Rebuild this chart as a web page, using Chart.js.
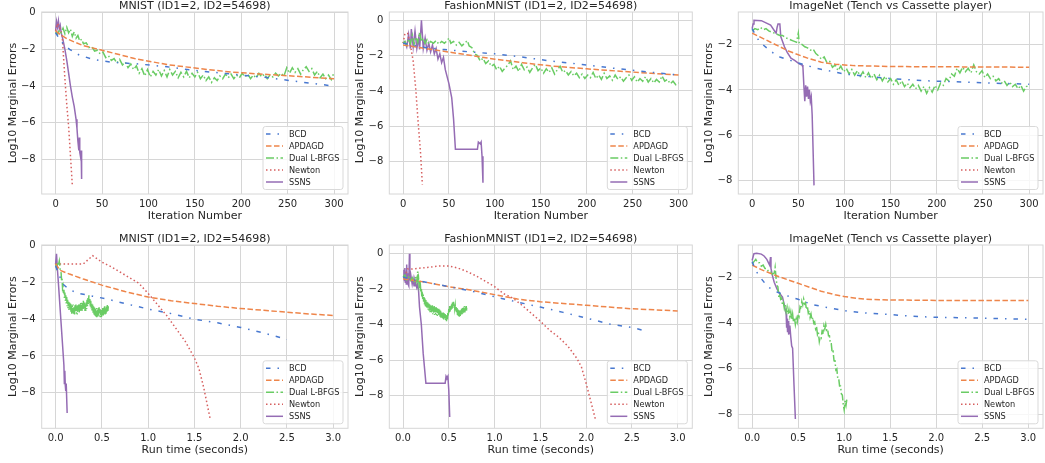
<!DOCTYPE html>
<html>
<head>
<meta charset="utf-8">
<script src="https://cdn.jsdelivr.net/npm/chart.js@4.4.0/dist/chart.umd.min.js"></script>
<style>
    body { margin: 0; background: #ffffff; width: 1045px; height: 463px; overflow: hidden; position: relative; }
    canvas { position: absolute; }
</style>
</head>
<body>
<canvas id="mnist-iter"></canvas>
<canvas id="fashion-iter"></canvas>
<canvas id="imagenet-iter"></canvas>
<canvas id="mnist-time"></canvas>
<canvas id="fashion-time"></canvas>
<canvas id="imagenet-time"></canvas>
<script>
// Series and ticks
const seriesNames = ['BCD', 'APDAGD', 'Dual L-BFGS', 'Newton', 'SSNS'];
const iterTicks = [0, 50, 100, 150, 200, 250, 300];
const timeTicks = [0, 0.5, 1.0, 1.5, 2.0, 2.5, 3.0];
const yTicksFull = [0, -2, -4, -6, -8];
const yTicksShort = [-2, -4, -6, -8];

// MNIST, iterations
const mnistIterBCD = [[0,-1.1],[5,-1.5],[10,-1.8],[15,-2.0],[25,-2.3],[40,-2.55],[60,-2.7],[90,-2.8],[120,-2.95],[150,-3.15],[190,-3.35],[230,-3.55],[260,-3.75],[300,-4.0]];
const mnistIterAPDAGD = [[0,-1.0],[5,-1.2],[12,-1.42],[20,-1.6],[30,-1.8],[50,-2.05],[85,-2.5],[120,-2.83],[155,-3.05],[190,-3.24],[225,-3.36],[260,-3.47],[300,-3.6]];
const mnistIterLBFGS = [[0,-1.05],[2,-1.2],[4,-0.95],[6,-1.1],[8,-0.85],[10,-1.15],[12,-0.8],[14,-1.1],[16,-0.9],[18,-1.3],[20,-1.05],[22,-1.4],[24,-1.25],[26,-1.55],[28,-1.45],[30,-1.7],[33,-1.65],[36,-1.9],[39,-1.85],[42,-2.1],[45,-2.05],[48,-2.25],[51,-2.15],[54,-2.45],[57,-2.35],[60,-2.6],[63,-2.5],[66,-2.75],[69,-2.55],[72,-2.85],[75,-2.7],[78,-3.0],[81,-2.8],[84,-3.1],[87,-2.9],[90,-3.3],[93,-3.05],[96,-3.45],[99,-3.1],[102,-3.5],[105,-3.2],[108,-3.4],[111,-3.1],[114,-3.45],[117,-3.15],[120,-3.5],[123,-3.1],[126,-3.4],[129,-3.2],[132,-3.55],[135,-3.25],[138,-3.5],[141,-3.2],[144,-3.55],[147,-3.3],[150,-3.5],[153,-3.25],[156,-3.6],[159,-3.4],[162,-3.7],[165,-3.5],[168,-3.8],[171,-3.55],[174,-3.7],[177,-3.45],[180,-3.6],[183,-3.35],[186,-3.55],[189,-3.35],[192,-3.6],[195,-3.4],[198,-3.55],[201,-3.3],[204,-3.5],[207,-3.35],[210,-3.6],[213,-3.4],[216,-3.55],[219,-3.3],[222,-3.5],[225,-3.35],[228,-3.6],[231,-3.4],[234,-3.5],[237,-3.3],[240,-3.45],[243,-3.3],[246,-3.45],[249,-3.0],[252,-3.3],[255,-3.0],[258,-3.25],[261,-3.05],[264,-3.35],[267,-3.1],[270,-2.95],[273,-3.2],[276,-3.05],[279,-3.4],[282,-3.2],[285,-3.55],[288,-3.35],[291,-3.6],[294,-3.4],[297,-3.65],[300,-3.25]];
const mnistIterNewton = [[0,-1.0],[2,-0.6],[5,-0.9],[7,-1.2],[10,-3.6],[12,-5.0],[14,-6.2],[16,-7.8],[18,-9.4]];
const mnistIterSSNS = [[0,-1.0],[1,-0.5],[2,-0.8],[3,-0.45],[4,-0.9],[5,-0.7],[6,-1.1],[8,-1.5],[10,-2.0],[12,-2.6],[14,-3.3],[16,-4.0],[18,-4.6],[20,-5.1],[22,-5.8],[23,-6.3],[24,-7.0],[25,-7.5],[25.5,-6.8],[26,-7.6],[27,-7.9],[27.5,-7.5],[28,-9.05]];

// FashionMNIST, iterations
const fashionIterBCD = [[0,-1.3],[10,-1.4],[25,-1.55],[45,-1.66],[75,-1.8],[100,-1.9],[125,-2.05],[160,-2.3],[195,-2.5],[230,-2.72],[265,-2.92],[300,-3.1]];
const fashionIterAPDAGD = [[0,-1.4],[25,-1.6],[50,-1.8],[75,-2.0],[100,-2.2],[130,-2.4],[160,-2.58],[200,-2.75],[240,-2.9],[270,-3.0],[300,-3.1]];
const fashionIterLBFGS = [[0,-1.3],[2,-1.2],[4,-1.4],[6,-1.05],[8,-1.3],[10,-0.85],[12,-1.35],[14,-0.95],[16,-1.25],[18,-0.7],[20,-1.2],[22,-1.0],[24,-1.3],[26,-1.1],[28,-1.35],[30,-1.2],[33,-1.3],[36,-1.15],[39,-1.35],[42,-1.2],[45,-1.3],[48,-1.15],[50,-1.0],[52,-1.3],[55,-1.2],[58,-1.4],[61,-1.25],[64,-1.45],[67,-1.3],[70,-1.15],[72,-1.45],[75,-1.55],[78,-1.9],[81,-2.0],[84,-2.3],[87,-2.15],[90,-2.45],[93,-2.3],[96,-2.6],[99,-2.5],[102,-2.8],[105,-2.6],[108,-2.9],[111,-2.7],[114,-2.55],[117,-2.3],[120,-2.8],[123,-2.6],[126,-2.9],[129,-2.5],[132,-2.8],[135,-2.65],[138,-2.95],[141,-2.7],[144,-2.5],[147,-2.85],[150,-2.7],[153,-3.0],[156,-2.75],[159,-2.95],[162,-2.7],[165,-3.05],[168,-2.8],[171,-2.6],[174,-2.95],[177,-2.85],[180,-3.1],[183,-2.9],[186,-3.15],[189,-3.0],[192,-3.25],[195,-3.05],[198,-3.3],[201,-3.1],[204,-3.25],[207,-2.95],[210,-3.3],[213,-3.1],[216,-3.35],[219,-3.0],[222,-3.3],[225,-3.15],[228,-3.4],[231,-3.1],[234,-3.35],[237,-3.2],[240,-3.45],[243,-3.25],[246,-3.1],[249,-3.4],[252,-3.2],[255,-3.5],[258,-3.3],[261,-3.45],[264,-3.2],[267,-3.5],[270,-3.3],[273,-3.55],[276,-3.35],[279,-3.5],[282,-3.15],[285,-3.45],[288,-3.35],[291,-3.6],[294,-3.45],[297,-3.65],[300,-3.55]];
const fashionIterNewton = [[0,-1.3],[2,-0.75],[5,-0.75],[8,-1.4],[11,-2.3],[14,-4.0],[16,-5.5],[19,-7.5],[21,-9.3]];
const fashionIterSSNS = [[0,-1.3],[2,-1.2],[4,-1.5],[6,-0.8],[8,-1.6],[9,-0.5],[11,-1.5],[13,-0.6],[15,-1.6],[17,-1.0],[18,-1.65],[20,0.0],[22,-1.6],[24,-1.0],[26,-1.7],[28,-1.3],[30,-1.8],[32,-1.4],[34,-1.9],[36,-1.6],[38,-2.2],[40,-1.9],[42,-2.4],[44,-2.1],[46,-2.8],[50,-3.6],[53,-4.4],[55,-5.6],[57,-7.3],[81,-7.3],[82,-6.9],[84,-7.0],[85,-6.9],[86,-7.7],[87,-9.2]];

// ImageNet, iterations
const imagenetIterBCD = [[0,-1.3],[5,-1.7],[10,-1.95],[20,-2.3],[30,-2.55],[45,-2.75],[70,-3.05],[100,-3.3],[150,-3.5],[190,-3.6],[230,-3.65],[260,-3.7],[300,-3.75]];
const imagenetIterAPDAGD = [[0,-1.5],[20,-1.9],[40,-2.3],[60,-2.6],[75,-2.78],[90,-2.87],[110,-2.93],[150,-2.97],[200,-2.98],[300,-3.0]];
const imagenetIterLBFGS = [[0,-1.4],[3,-1.3],[6,-1.35],[9,-1.25],[12,-1.35],[15,-1.3],[18,-1.4],[21,-1.45],[24,-1.5],[27,-1.55],[30,-1.6],[33,-1.6],[36,-1.7],[39,-1.75],[42,-1.8],[45,-1.85],[48,-1.9],[50,-1.5],[51,-1.95],[54,-2.0],[57,-2.1],[60,-2.15],[63,-2.25],[66,-2.2],[69,-2.4],[72,-2.5],[75,-2.65],[78,-2.55],[81,-2.8],[84,-2.75],[87,-3.0],[90,-2.9],[93,-3.15],[96,-2.95],[99,-3.2],[102,-3.05],[105,-3.3],[108,-3.1],[111,-3.35],[114,-3.15],[117,-3.4],[120,-3.2],[123,-3.45],[126,-3.25],[129,-3.5],[132,-3.3],[135,-3.55],[138,-3.35],[141,-3.6],[144,-3.4],[147,-3.65],[150,-3.5],[153,-3.75],[156,-3.55],[159,-3.8],[162,-3.6],[165,-3.85],[168,-3.7],[171,-3.9],[174,-3.75],[177,-3.95],[180,-3.8],[183,-4.05],[186,-3.85],[189,-4.15],[192,-3.9],[195,-4.1],[198,-3.8],[201,-4.0],[204,-3.7],[207,-3.8],[210,-3.5],[213,-3.6],[216,-3.3],[219,-3.4],[222,-3.05],[225,-3.25],[228,-3.0],[231,-3.2],[234,-3.05],[237,-3.25],[240,-2.9],[243,-3.2],[246,-3.3],[249,-3.15],[252,-3.45],[255,-3.3],[258,-3.5],[261,-3.4],[264,-3.6],[267,-3.5],[270,-3.7],[273,-3.6],[276,-3.8],[279,-3.65],[282,-3.85],[285,-3.75],[288,-3.95],[291,-3.8],[294,-4.05],[297,-3.85],[300,-3.8]];
const imagenetIterNewton = [];
const imagenetIterSSNS = [[0,-1.3],[1,-1.1],[2,-0.93],[10,-0.95],[15,-1.05],[20,-1.15],[25,-1.45],[26,-1.5],[27,-1.25],[28,-1.1],[30,-1.1],[31,-1.65],[35,-2.1],[38,-2.35],[42,-2.6],[46,-2.7],[51,-2.85],[54,-2.9],[55,-3.0],[56,-3.8],[57,-4.5],[58,-3.8],[59,-4.3],[60,-3.85],[61,-4.4],[62,-4.0],[63,-4.5],[64,-4.3],[65,-5.1],[67,-8.2]];

// MNIST, run time
const mnistTimeBCD = [[0,-1.1],[0.03,-1.5],[0.08,-2.1],[0.15,-2.4],[0.25,-2.6],[0.4,-2.75],[0.55,-2.9],[0.75,-3.15],[1.0,-3.45],[1.25,-3.7],[1.5,-4.0],[1.75,-4.2],[2.0,-4.45],[2.25,-4.75],[2.5,-5.1]];
const mnistTimeAPDAGD = [[0,-1.0],[0.05,-1.35],[0.15,-1.55],[0.3,-1.82],[0.5,-2.15],[0.75,-2.5],[1.0,-2.8],[1.25,-3.0],[1.5,-3.15],[1.75,-3.3],[2.0,-3.42],[2.25,-3.52],[2.5,-3.62],[2.75,-3.72],[3.0,-3.8]];
const mnistTimeLBFGS = [[0,-1.0],[0.01,-1.2],[0.02,-0.9],[0.03,-1.1],[0.04,-0.85],[0.05,-1.3],[0.06,-1.5],[0.065,-1.9],[0.07,-1.8],[0.075,-2.3],[0.08,-2.2],[0.085,-2.6],[0.09,-2.4],[0.095,-2.85],[0.1,-2.55],[0.105,-3.0],[0.11,-2.7],[0.115,-3.15],[0.12,-2.8],[0.125,-3.3],[0.13,-2.95],[0.135,-3.4],[0.14,-3.05],[0.145,-3.5],[0.15,-3.1],[0.155,-3.55],[0.16,-3.15],[0.165,-3.6],[0.17,-3.2],[0.175,-3.7],[0.18,-3.25],[0.185,-3.65],[0.19,-3.2],[0.195,-3.7],[0.2,-3.3],[0.205,-3.75],[0.21,-3.25],[0.215,-3.6],[0.22,-3.2],[0.225,-3.7],[0.23,-3.3],[0.235,-3.75],[0.24,-3.25],[0.245,-3.6],[0.25,-3.2],[0.255,-3.65],[0.26,-3.15],[0.265,-3.55],[0.27,-3.1],[0.275,-3.5],[0.28,-3.1],[0.285,-3.55],[0.29,-3.05],[0.295,-3.45],[0.3,-3.0],[0.305,-3.5],[0.31,-3.1],[0.315,-3.55],[0.32,-3.2],[0.325,-3.6],[0.33,-3.1],[0.335,-3.45],[0.34,-2.95],[0.345,-3.3],[0.35,-2.85],[0.355,-3.2],[0.36,-2.7],[0.365,-3.15],[0.37,-2.9],[0.375,-3.35],[0.38,-3.0],[0.385,-3.45],[0.39,-3.15],[0.395,-3.6],[0.4,-3.2],[0.405,-3.65],[0.41,-3.3],[0.415,-3.75],[0.42,-3.35],[0.425,-3.8],[0.43,-3.4],[0.435,-3.85],[0.44,-3.4],[0.445,-3.9],[0.45,-3.45],[0.455,-3.85],[0.46,-3.4],[0.465,-3.8],[0.47,-3.35],[0.475,-3.85],[0.48,-3.45],[0.485,-3.9],[0.49,-3.5],[0.495,-3.95],[0.5,-3.5],[0.505,-3.85],[0.51,-3.4],[0.515,-3.8],[0.52,-3.35],[0.525,-3.7],[0.53,-3.3],[0.535,-3.75],[0.54,-3.35],[0.545,-3.7],[0.55,-3.25],[0.555,-3.6],[0.56,-3.2],[0.565,-3.55],[0.57,-3.3]];
const mnistTimeNewton = [[0,-1.0],[0.1,-1.0],[0.2,-1.0],[0.3,-1.0],[0.4,-0.55],[0.5,-0.9],[0.6,-1.15],[0.7,-1.45],[0.8,-1.75],[0.9,-2.05],[1.0,-2.6],[1.1,-3.2],[1.2,-3.8],[1.3,-4.5],[1.4,-5.2],[1.5,-6.1],[1.55,-6.7],[1.6,-7.7],[1.67,-9.4]];
const mnistTimeSSNS = [[0,-1.0],[0.01,-0.45],[0.02,-1.3],[0.03,-2.0],[0.05,-3.5],[0.07,-5.0],[0.09,-6.5],[0.095,-7.5],[0.1,-6.8],[0.105,-7.6],[0.11,-7.9],[0.115,-7.5],[0.125,-9.1]];

// FashionMNIST, run time
const fashionTimeBCD = [[0,-1.3],[0.1,-1.45],[0.25,-1.6],[0.5,-1.85],[0.75,-2.1],[1.0,-2.42],[1.25,-2.72],[1.5,-3.0],[1.75,-3.3],[2.0,-3.62],[2.25,-3.95],[2.5,-4.15],[2.65,-4.35]];
const fashionTimeAPDAGD = [[0,-1.4],[0.25,-1.6],[0.5,-1.85],[0.75,-2.05],[1.0,-2.3],[1.25,-2.55],[1.5,-2.7],[1.75,-2.8],[2.0,-2.9],[2.25,-3.0],[2.5,-3.1],[2.75,-3.16],[3.0,-3.22]];
const fashionTimeLBFGS = [[0.0,-1.3],[0.02,-1.2],[0.04,-1.45],[0.06,-1.3],[0.08,-1.5],[0.1,-1.35],[0.12,-1.55],[0.14,-1.3],[0.15,-1.55],[0.16,-1.0],[0.165,-1.6],[0.17,-1.4],[0.175,-1.75],[0.18,-1.55],[0.185,-1.95],[0.19,-1.8],[0.195,-2.2],[0.2,-1.95],[0.205,-2.4],[0.21,-2.1],[0.215,-2.55],[0.22,-2.3],[0.225,-2.7],[0.23,-2.4],[0.235,-2.85],[0.24,-2.5],[0.245,-2.95],[0.25,-2.6],[0.255,-3.0],[0.26,-2.7],[0.265,-3.1],[0.27,-2.75],[0.275,-3.15],[0.28,-2.8],[0.285,-3.2],[0.29,-2.85],[0.295,-3.3],[0.3,-2.9],[0.305,-3.3],[0.31,-2.95],[0.315,-3.35],[0.32,-2.9],[0.325,-3.4],[0.33,-3.0],[0.335,-3.35],[0.34,-2.95],[0.345,-3.45],[0.35,-3.05],[0.355,-3.4],[0.36,-3.0],[0.365,-3.45],[0.37,-3.05],[0.375,-3.5],[0.38,-3.1],[0.385,-3.45],[0.39,-3.1],[0.395,-3.5],[0.4,-3.15],[0.405,-3.55],[0.41,-3.2],[0.415,-3.6],[0.42,-3.25],[0.425,-3.6],[0.43,-3.3],[0.435,-3.65],[0.44,-3.3],[0.445,-3.7],[0.45,-3.35],[0.455,-3.7],[0.46,-3.4],[0.465,-3.75],[0.47,-3.45],[0.475,-3.8],[0.48,-3.5],[0.485,-3.7],[0.49,-3.3],[0.495,-3.5],[0.5,-3.1],[0.505,-3.35],[0.51,-2.95],[0.515,-3.25],[0.52,-2.9],[0.525,-3.15],[0.53,-2.8],[0.535,-3.1],[0.54,-2.75],[0.545,-3.05],[0.55,-2.7],[0.555,-3.0],[0.56,-2.8],[0.565,-3.1],[0.57,-2.9],[0.575,-3.25],[0.58,-3.0],[0.585,-3.35],[0.59,-3.05],[0.595,-3.45],[0.6,-3.1],[0.605,-3.5],[0.61,-3.15],[0.615,-3.55],[0.62,-3.2],[0.625,-3.5],[0.63,-3.15],[0.635,-3.45],[0.64,-3.1],[0.645,-3.4],[0.65,-3.05],[0.655,-3.35],[0.66,-3.0],[0.665,-3.3],[0.67,-2.95],[0.675,-3.3],[0.68,-3.0],[0.685,-3.25],[0.69,-2.95],[0.695,-3.2],[0.7,-3.05]];
const fashionTimeNewton = [[0.02,-1.3],[0.05,-0.85],[0.1,-0.85],[0.2,-0.8],[0.3,-0.75],[0.4,-0.68],[0.5,-0.68],[0.6,-0.8],[0.7,-1.0],[0.8,-1.25],[0.9,-1.55],[1.0,-1.85],[1.1,-2.25],[1.2,-2.5],[1.3,-2.9],[1.4,-3.35],[1.5,-3.8],[1.6,-4.3],[1.7,-4.7],[1.8,-5.2],[1.9,-5.9],[1.95,-6.4],[2.0,-7.3],[2.05,-8.3],[2.1,-9.3]];
const fashionTimeSSNS = [[0,-1.3],[0.01,-0.9],[0.015,-1.5],[0.02,-0.8],[0.025,-1.6],[0.03,-1.0],[0.035,-1.7],[0.04,-0.6],[0.045,-1.5],[0.05,-1.1],[0.055,-1.7],[0.06,-1.2],[0.065,-1.8],[0.07,0.0],[0.075,-1.5],[0.085,-1.2],[0.1,-1.7],[0.11,-1.4],[0.12,-1.8],[0.13,-1.5],[0.15,-1.9],[0.16,-1.7],[0.17,-2.1],[0.18,-3.0],[0.2,-4.0],[0.22,-5.6],[0.25,-7.3],[0.46,-7.3],[0.47,-6.9],[0.48,-7.0],[0.49,-6.9],[0.5,-7.7],[0.51,-9.2]];

// ImageNet, run time
const imagenetTimeBCD = [[0,-1.3],[0.04,-1.7],[0.1,-2.05],[0.17,-2.4],[0.25,-2.6],[0.35,-2.76],[0.5,-2.95],[0.65,-3.18],[0.85,-3.34],[1.05,-3.48],[1.25,-3.56],[1.5,-3.62],[1.75,-3.7],[2.0,-3.74],[2.5,-3.78],[3.0,-3.83]];
const imagenetTimeAPDAGD = [[0,-1.45],[0.1,-1.65],[0.25,-1.9],[0.5,-2.25],[0.75,-2.6],[0.9,-2.75],[1.0,-2.83],[1.15,-2.92],[1.3,-2.96],[1.5,-2.98],[2.0,-3.0],[3.0,-3.0]];
const imagenetTimeLBFGS = [[0,-1.4],[0.02,-1.3],[0.04,-1.2],[0.06,-1.35],[0.08,-1.35],[0.1,-1.5],[0.12,-1.45],[0.14,-1.6],[0.16,-1.6],[0.18,-1.75],[0.2,-1.75],[0.22,-1.85],[0.24,-1.8],[0.25,-1.55],[0.26,-2.0],[0.27,-2.35],[0.28,-2.4],[0.29,-2.85],[0.3,-2.75],[0.31,-2.95],[0.32,-2.9],[0.33,-3.2],[0.34,-3.1],[0.35,-3.35],[0.36,-3.2],[0.37,-3.5],[0.38,-3.3],[0.39,-3.6],[0.4,-3.4],[0.41,-3.7],[0.42,-3.5],[0.43,-3.85],[0.44,-3.6],[0.45,-3.95],[0.46,-3.75],[0.47,-4.05],[0.48,-3.8],[0.49,-3.95],[0.5,-3.6],[0.51,-3.7],[0.52,-3.3],[0.53,-3.4],[0.54,-3.05],[0.55,-3.2],[0.56,-2.95],[0.57,-3.15],[0.58,-3.1],[0.59,-3.4],[0.6,-3.25],[0.61,-3.55],[0.62,-3.45],[0.63,-3.75],[0.64,-3.6],[0.65,-3.85],[0.66,-3.75],[0.67,-4.0],[0.68,-3.95],[0.69,-4.25],[0.7,-4.15],[0.71,-4.5],[0.72,-4.4],[0.73,-4.8],[0.74,-4.6],[0.75,-4.65],[0.76,-4.35],[0.77,-4.4],[0.78,-4.1],[0.79,-4.25],[0.8,-4.05],[0.81,-4.3],[0.82,-4.25],[0.83,-4.55],[0.84,-4.55],[0.85,-4.9],[0.86,-4.9],[0.87,-5.3],[0.88,-5.25],[0.89,-5.65],[0.9,-5.65],[0.91,-6.05],[0.92,-6.0],[0.93,-6.4],[0.94,-6.4],[0.95,-6.75],[0.96,-6.75],[0.97,-7.1],[0.98,-7.15],[0.99,-7.55],[1.0,-7.8],[1.01,-7.4],[1.02,-7.6],[1.03,-7.3]];
const imagenetTimeNewton = [];
const imagenetTimeSSNS = [[0,-1.25],[0.02,-0.95],[0.05,-0.93],[0.1,-0.97],[0.13,-1.05],[0.16,-1.2],[0.19,-1.45],[0.2,-1.1],[0.205,-1.6],[0.22,-1.9],[0.24,-2.2],[0.27,-2.5],[0.3,-2.7],[0.33,-2.85],[0.35,-3.2],[0.37,-3.6],[0.375,-4.2],[0.38,-3.8],[0.385,-4.4],[0.39,-3.9],[0.395,-4.5],[0.4,-4.0],[0.405,-4.45],[0.41,-4.1],[0.42,-4.6],[0.43,-5.0],[0.44,-5.1],[0.455,-6.7],[0.47,-8.2]];

// Styles (seaborn muted palette)
const seriesColors = ['#4878d0', '#ee854a', '#6acc64', '#d65f5f', '#956cb4'];
const seriesDashes = [[4.5, 7, 1.5, 7], [5.5, 2.5], [8, 2.5, 1.5, 2.5], [1.5, 2.5], []];
const gridColor = '#d6d6d6';
const textColor = '#262626';
const fontFamily = '"DejaVu Sans", sans-serif';

const fmtIter = v => String(v);
const fmtTime = v => v.toFixed(1);
const fmtY = v => (v < 0 ? '\u2212' + Math.abs(v) : String(v));

const panels = [
    { id: 'mnist-iter', title: 'MNIST (ID1=2, ID2=54698)', xLabel: 'Iteration Number',
      series: [mnistIterBCD, mnistIterAPDAGD, mnistIterLBFGS, mnistIterNewton, mnistIterSSNS],
      xTicks: iterTicks, xFmt: fmtIter, xMin: -15, xMax: 315, yTicks: yTicksFull, yMin: -9.87, yMax: 0.03,
      box: { left: 0, top: 0, width: 350, height: 230 }, area: { l: 41.7, t: 12, r: 348, b: 194 } },
    { id: 'fashion-iter', title: 'FashionMNIST (ID1=2, ID2=54698)', xLabel: 'Iteration Number',
      series: [fashionIterBCD, fashionIterAPDAGD, fashionIterLBFGS, fashionIterNewton, fashionIterSSNS],
      xTicks: iterTicks, xFmt: fmtIter, xMin: -15, xMax: 315, yTicks: yTicksFull, yMin: -9.84, yMax: 0.47,
      box: { left: 350, top: 0, width: 345, height: 230 }, area: { l: 389.3, t: 12, r: 692.3, b: 194 } },
    { id: 'imagenet-iter', title: 'ImageNet (Tench vs Cassette player)', xLabel: 'Iteration Number',
      series: [imagenetIterBCD, imagenetIterAPDAGD, imagenetIterLBFGS, imagenetIterNewton, imagenetIterSSNS],
      xTicks: iterTicks, xFmt: fmtIter, xMin: -15, xMax: 315, yTicks: yTicksShort, yMin: -8.58, yMax: -0.57,
      box: { left: 695, top: 0, width: 350, height: 230 }, area: { l: 738.3, t: 12, r: 1043, b: 194 } },
    { id: 'mnist-time', title: 'MNIST (ID1=2, ID2=54698)', xLabel: 'Run time (seconds)',
      series: [mnistTimeBCD, mnistTimeAPDAGD, mnistTimeLBFGS, mnistTimeNewton, mnistTimeSSNS],
      xTicks: timeTicks, xFmt: fmtTime, xMin: -0.15, xMax: 3.16, yTicks: yTicksFull, yMin: -9.93, yMax: 0.03,
      box: { left: 0, top: 230, width: 350, height: 233 }, area: { l: 41.7, t: 245, r: 348, b: 428.3 } },
    { id: 'fashion-time', title: 'FashionMNIST (ID1=2, ID2=54698)', xLabel: 'Run time (seconds)',
      series: [fashionTimeBCD, fashionTimeAPDAGD, fashionTimeLBFGS, fashionTimeNewton, fashionTimeSSNS],
      xTicks: timeTicks, xFmt: fmtTime, xMin: -0.15, xMax: 3.16, yTicks: yTicksFull, yMin: -9.84, yMax: 0.5,
      box: { left: 350, top: 230, width: 345, height: 233 }, area: { l: 389.3, t: 245, r: 692.3, b: 428.3 } },
    { id: 'imagenet-time', title: 'ImageNet (Tench vs Cassette player)', xLabel: 'Run time (seconds)',
      series: [imagenetTimeBCD, imagenetTimeAPDAGD, imagenetTimeLBFGS, imagenetTimeNewton, imagenetTimeSSNS],
      xTicks: timeTicks, xFmt: fmtTime, xMin: -0.15, xMax: 3.16, yTicks: yTicksShort, yMin: -8.61, yMax: -0.57,
      box: { left: 695, top: 230, width: 350, height: 233 }, area: { l: 738.3, t: 245, r: 1043, b: 428.3 } }
];

// Frame, titles and the boxed legend in the lower right corner
const panelDecor = {
    id: 'decor',
    afterDraw(chart, args, opts) {
        const ctx = chart.ctx;
        const a = chart.chartArea;
        ctx.save();
        ctx.strokeStyle = gridColor;
        ctx.lineWidth = 1;
        ctx.strokeRect(a.left, a.top, a.right - a.left, a.bottom - a.top);

        ctx.fillStyle = textColor;
        ctx.font = '11px ' + fontFamily;
        ctx.textAlign = 'center';
        ctx.textBaseline = 'alphabetic';
        ctx.fillText(opts.title, (a.left + a.right) / 2, a.top - 3.5);
        ctx.fillText(opts.xLabel, (a.left + a.right) / 2, a.bottom + 25);
        ctx.save();
        ctx.translate(a.left - 29, (a.top + a.bottom) / 2);
        ctx.rotate(-Math.PI / 2);
        ctx.textBaseline = 'middle';
        ctx.fillText('Log10 Marginal Errors', 0, 0);
        ctx.restore();

        // legend
        const w = 80, h = 63;
        const x0 = a.right - 5 - w;
        const y0 = a.bottom - 4.5 - h;
        ctx.beginPath();
        ctx.roundRect(x0, y0, w, h, 2.5);
        ctx.fillStyle = 'rgba(255,255,255,0.8)';
        ctx.fill();
        ctx.strokeStyle = '#d9d9d9';
        ctx.stroke();
        ctx.font = '8.2px ' + fontFamily;
        ctx.textAlign = 'left';
        ctx.textBaseline = 'middle';
        chart.data.datasets.forEach((ds, i) => {
            const y = y0 + 7.5 + i * 12;
            ctx.beginPath();
            ctx.setLineDash(ds.borderDash);
            ctx.strokeStyle = ds.borderColor;
            ctx.lineWidth = 1.5;
            ctx.moveTo(x0 + 3, y);
            ctx.lineTo(x0 + 20, y);
            ctx.stroke();
            ctx.setLineDash([]);
            ctx.fillStyle = textColor;
            ctx.fillText(ds.label, x0 + 26, y + 0.5);
        });
        ctx.restore();
    }
};

function makePanel(p) {
    const canvas = document.getElementById(p.id);
    canvas.width = p.box.width;
    canvas.height = p.box.height;
    canvas.style.left = p.box.left + 'px';
    canvas.style.top = p.box.top + 'px';

    const yAxisWidth = p.area.l - p.box.left;
    const xAxisHeight = p.box.top + p.box.height - p.area.b;

    return new Chart(canvas, {
        type: 'line',
        data: {
            datasets: seriesNames.map((name, i) => ({
                label: name,
                data: p.series[i],
                borderColor: seriesColors[i],
                borderWidth: 1.5,
                borderDash: seriesDashes[i],
                pointRadius: 0,
                tension: 0,
                fill: false
            }))
        },
        options: {
            responsive: false,
            animation: false,
            devicePixelRatio: 1,
            layout: {
                padding: {
                    left: 0,
                    top: p.area.t - p.box.top,
                    right: p.box.left + p.box.width - p.area.r,
                    bottom: 0
                }
            },
            plugins: {
                legend: { display: false },
                tooltip: { enabled: false },
                decor: { title: p.title, xLabel: p.xLabel }
            },
            scales: {
                x: {
                    type: 'linear',
                    min: p.xMin,
                    max: p.xMax,
                    afterFit: s => { s.height = xAxisHeight; },
                    afterBuildTicks: s => { s.ticks = p.xTicks.map(v => ({ value: v })); },
                    grid: { color: gridColor, drawTicks: false },
                    border: { display: false },
                    ticks: {
                        autoSkip: false,
                        maxRotation: 0,
                        padding: 4,
                        color: textColor,
                        font: { family: fontFamily, size: 10 },
                        callback: v => p.xFmt(v)
                    }
                },
                y: {
                    type: 'linear',
                    min: p.yMin,
                    max: p.yMax,
                    afterFit: s => { s.width = yAxisWidth; },
                    afterBuildTicks: s => { s.ticks = p.yTicks.map(v => ({ value: v })); },
                    grid: { color: gridColor, drawTicks: false },
                    border: { display: false },
                    ticks: {
                        autoSkip: false,
                        padding: 6,
                        color: textColor,
                        font: { family: fontFamily, size: 10 },
                        callback: v => fmtY(v)
                    }
                }
            }
        },
        plugins: [panelDecor]
    });
}

panels.forEach(makePanel);
</script>
</body>
</html>
